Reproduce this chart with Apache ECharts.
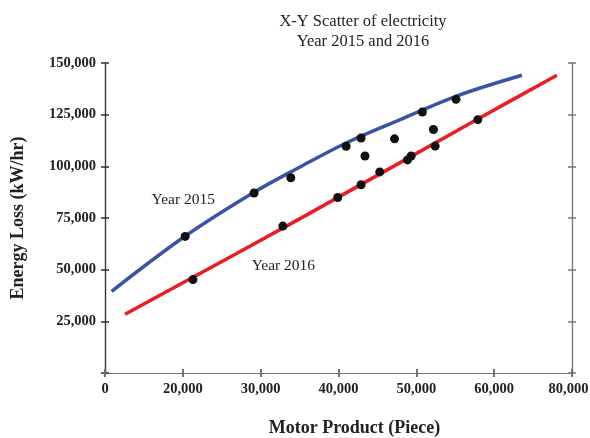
<!DOCTYPE html>
<html>
<head>
<meta charset="utf-8">
<script src="https://cdn.jsdelivr.net/npm/echarts@6/dist/echarts.min.js"></script>
<style>
html,body{margin:0;padding:0;background:#fff;}
#c{width:590px;height:438px;}
</style>
</head>
<body>
<div id="c"></div>
<script>
// ---- data ----
const titleLines = ['X-Y Scatter of electricity', 'Year 2015 and 2016'];
const xTickLabels = ['0', '20,000', '30,000', '40,000', '50,000', '60,000', '80,000'];
const yTickLabels = ['', '25,000', '50,000', '75,000', '100,000', '125,000', '150,000'];
const observed = [
  [20300, 66100], [21300, 45200], [29150, 87100], [32850, 71100], [33870, 94500],
  [39900, 84900], [40980, 109700], [42900, 113700], [43400, 105000], [42900, 91100],
  [45300, 97300], [47200, 113300], [48860, 103100], [49330, 105000], [50780, 126300],
  [52200, 117800], [52420, 109800], [55100, 132400], [57900, 122600]
];
const curve2015 = [
  [10860, 39530], [20280, 66150], [29150, 87440], [35060, 99680],
  [40980, 111290], [47920, 122610], [55100, 133900], [63560, 144050]
];
const curve2016 = [
  [12570, 28400], [35060, 74710], [57900, 122900], [68060, 144050]
];
const label2015 = {name: 'Year 2015', coord: [20060, 83600]};
const label2016 = {name: 'Year 2016', coord: [32920, 51600]};

// ---- chart ----
const FONT = '"Liberation Serif", "Times New Roman", serif';
const chart = echarts.init(document.getElementById('c'));

const X_MIN = 10000, X_MAX = 70000, X_INT = 10000;
const Y_MIN = 0, Y_MAX = 150000, Y_INT = 25000;

function xAx(pos, inside, showLabel, color, extra) {
  return Object.assign({
    type: 'value', position: pos, min: X_MIN, max: X_MAX, interval: X_INT,
    axisLine: {show: true, lineStyle: {color: color, width: 1.2}},
    axisTick: {show: true, inside: inside, length: 4, lineStyle: {color: color, width: 1.5}},
    axisLabel: {show: showLabel},
    splitLine: {show: false}
  }, extra || {});
}
function yAx(pos, inside, showLabel, color, extra) {
  return Object.assign({
    type: 'value', position: pos, min: Y_MIN, max: Y_MAX, interval: Y_INT,
    axisLine: {show: true, lineStyle: {color: color, width: 1.2}},
    axisTick: {show: true, inside: inside, length: 4, lineStyle: {color: color, width: 1.5}},
    axisLabel: {show: showLabel},
    splitLine: {show: false}
  }, extra || {});
}

const option = {
  backgroundColor: '#fff',
  animation: false,
  grid: {left: 105, right: 18, top: 63, bottom: 65, containLabel: false, outerBoundsMode: 'none'},
  graphic: [{
    type: 'text', x: 363, y: 12,
    style: {
      text: titleLines.join('\n'),
      font: '16.5px ' + FONT, fill: '#222', align: 'center', verticalAlign: 'top', lineHeight: 20
    }
  }],
  xAxis: [
    xAx('bottom', true, true, '#333', {
      axisLabel: {
        show: true, margin: 9, color: '#222',
        fontFamily: FONT, fontWeight: 'bold', fontSize: 14.5,
        formatter: function (v) {
          const i = Math.round((v - X_MIN) / X_INT);
          return i === xTickLabels.length - 1 ? '{last|' + xTickLabels[i] + '}' : xTickLabels[i];
        },
        rich: {
          last: {fontFamily: FONT, fontWeight: 'bold', fontSize: 14.5, color: '#222', padding: [0, 7, 4, 0]}
        }
      },
      name: 'Motor Product (Piece)', nameLocation: 'middle', nameGap: 46,
      nameTextStyle: {fontFamily: FONT, fontWeight: 'bold', fontSize: 18, color: '#222', padding: [0, 0, 0, 32]}
    }),
    xAx('bottom', false, false, '#333'),
    xAx('top', true, false, '#777'),
    xAx('top', false, false, '#777')
  ],
  yAxis: [
    yAx('left', true, true, '#333', {
      axisLabel: {
        show: true, margin: 9, color: '#222',
        fontFamily: FONT, fontWeight: 'bold', fontSize: 14.5,
        formatter: function (v) { return yTickLabels[Math.round((v - Y_MIN) / Y_INT)]; }
      },
      name: 'Energy Loss (kW/hr)', nameLocation: 'middle', nameGap: 78,
      nameTextStyle: {fontFamily: FONT, fontWeight: 'bold', fontSize: 18, color: '#222'}
    }),
    yAx('left', false, false, '#333'),
    yAx('right', true, false, '#777'),
    yAx('right', false, false, '#777')
  ],
  series: [
    {
      type: 'line', name: 'Year 2015', data: curve2015, smooth: 0.35, symbol: 'none',
      lineStyle: {color: '#3a53a4', width: 3.5}, z: 2,
      markPoint: {
        symbol: 'circle', symbolSize: 1, itemStyle: {color: 'rgba(0,0,0,0)'},
        label: {show: true, position: 'inside', formatter: '{b}', fontFamily: FONT, fontSize: 15.5, color: '#222'},
        data: [label2015]
      }
    },
    {
      type: 'line', name: 'Year 2016', data: curve2016, smooth: 0.35, symbol: 'none',
      lineStyle: {color: '#ec1c24', width: 3.5}, z: 2,
      markPoint: {
        symbol: 'circle', symbolSize: 1, itemStyle: {color: 'rgba(0,0,0,0)'},
        label: {show: true, position: 'inside', formatter: '{b}', fontFamily: FONT, fontSize: 15.5, color: '#222'},
        data: [label2016]
      }
    },
    {
      type: 'scatter', name: 'Observed', data: observed, symbolSize: 9,
      itemStyle: {color: '#111', opacity: 1}, z: 3
    }
  ]
};
chart.setOption(option);
</script>
</body>
</html>
